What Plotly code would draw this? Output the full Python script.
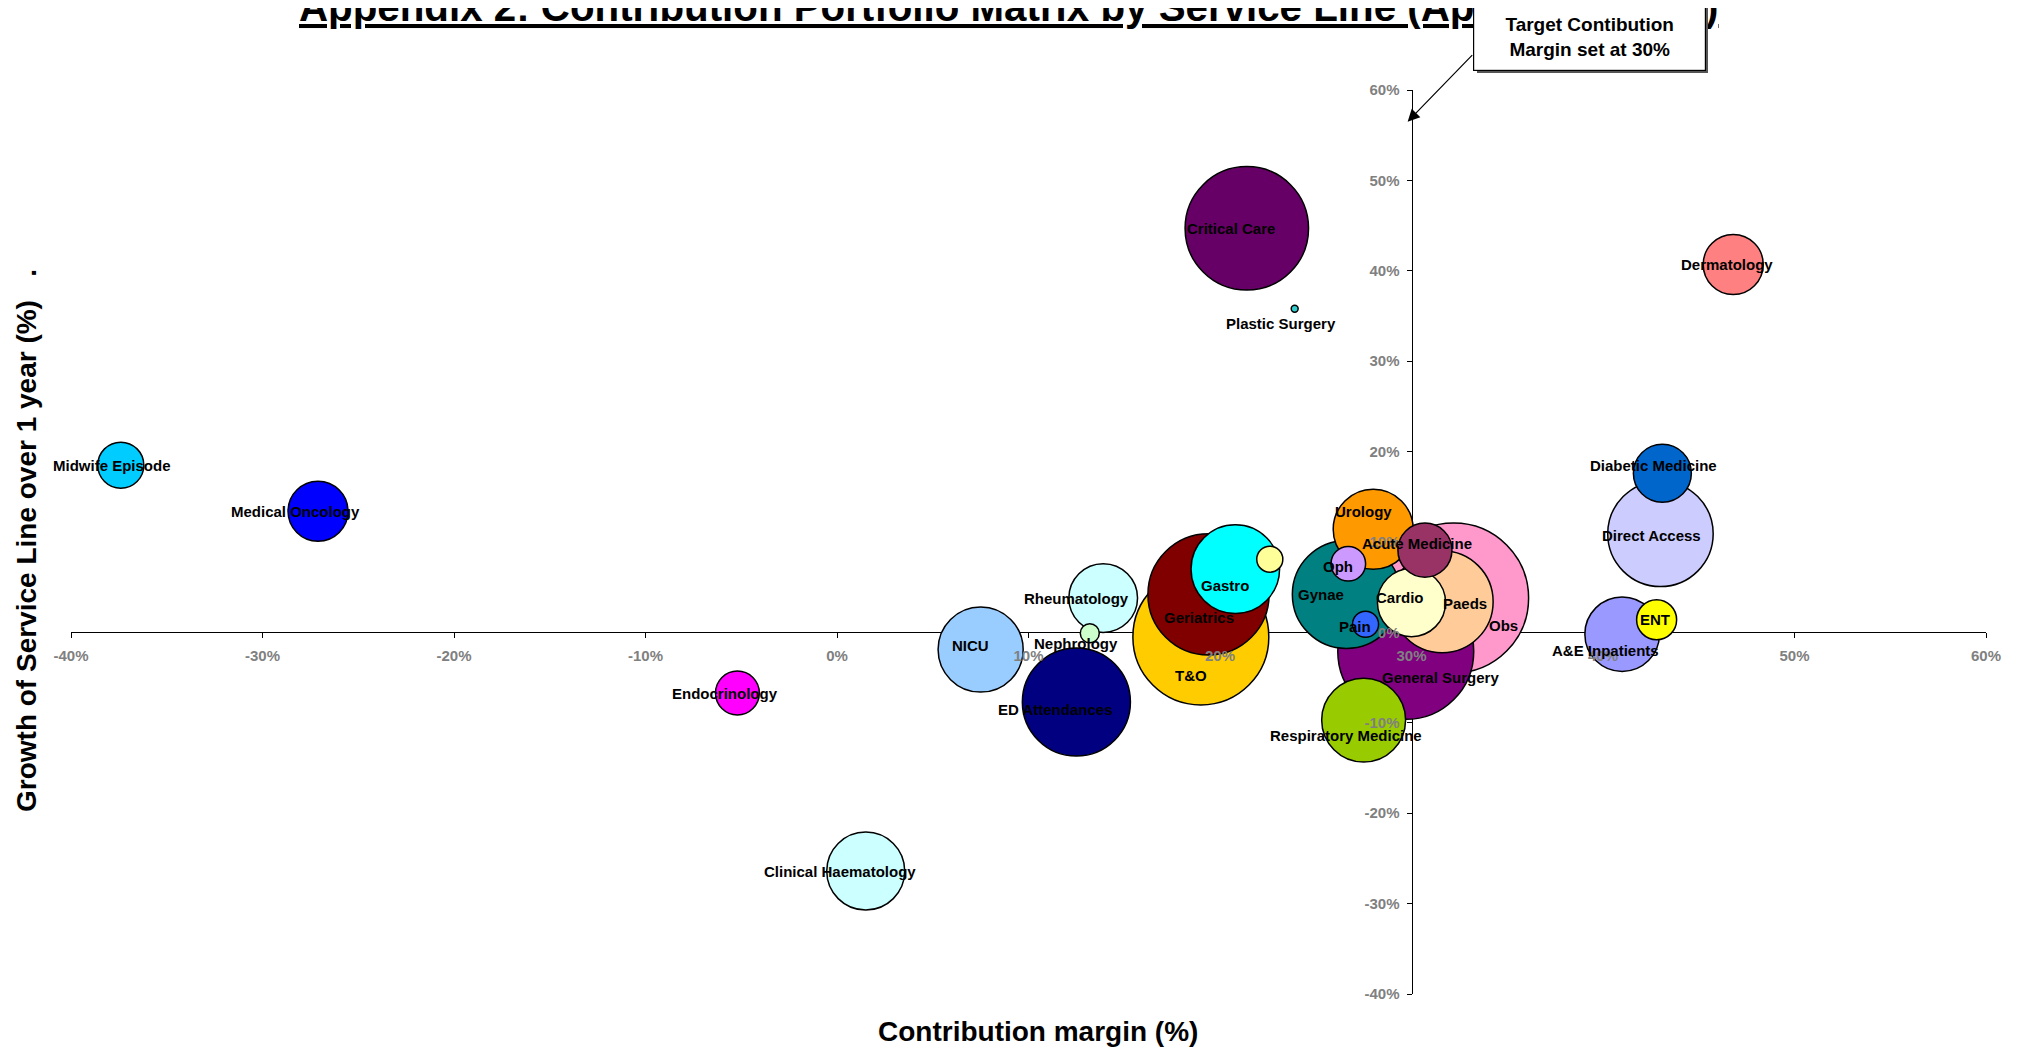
import numpy as np
import plotly.graph_objects as go

# ---------------- data ----------------
service_lines = ["Midwife Episode", "Medical Oncology", "Endocrinology", "Clinical Haematology",
                 "NICU", "ED Attendances", "Nephrology", "Rheumatology", "T&O", "Geriatrics",
                 "Gastro", "", "Critical Care", "Plastic Surgery", "Urology", "Oph", "Gynae",
                 "Pain", "Acute Medicine", "Cardio", "Paeds", "Obs", "General Surgery",
                 "Respiratory Medicine", "Diabetic Medicine", "Direct Access", "A&E Inpatients",
                 "ENT", "Dermatology"]
contribution_margin = [-37.4, -27.1, -5.2, 1.5, 7.5, 12.5, 13.2, 13.9, 19.0, 19.4,
                       20.8, 22.6, 21.4, 23.9, 28.0, 26.7, 26.6, 27.6, 30.7, 30.0,
                       31.6, 32.2, 29.7, 27.5, 43.1, 43.0, 41.0, 42.8, 46.8]
growth_1yr = [18.5, 13.4, -6.7, -26.4, -1.9, -7.7, -0.1, 3.8, -0.5, 4.2,
              7.0, 8.1, 44.7, 35.8, 11.4, 7.6, 4.2, 0.9, 9.1, 3.3,
              3.4, 3.8, -2.1, -9.7, 17.6, 10.9, -0.2, 1.4, 40.7]
bubble_value = [530, 900, 480, 1520, 1810, 2920, 90, 1180, 4620, 3670,
                1960, 170, 3810, 12, 1600, 300, 2920, 170, 730, 1160,
                2600, 5620, 4620, 1760, 840, 2780, 1390, 400, 900]
tick_values = [-40, -30, -20, -10, 0, 10, 20, 30, 40, 50, 60]
tick_labels = ["-40%", "-30%", "-20%", "-10%", "0%", "10%", "20%", "30%", "40%", "50%", "60%"]
target_margin = 30

# ---------------- styles ----------------
colors = {"Midwife Episode": "#00CCFF", "Medical Oncology": "#0000FF", "Endocrinology": "#FF00FF",
          "Clinical Haematology": "#CCFFFF", "NICU": "#99CCFF", "ED Attendances": "#000080",
          "Nephrology": "#CCFFCC", "Rheumatology": "#CCFFFF", "T&O": "#FFCC00",
          "Geriatrics": "#800000", "Gastro": "#00FFFF", "": "#FFFF99", "Critical Care": "#660066",
          "Plastic Surgery": "#33CCCC", "Urology": "#FF9900", "Oph": "#CC99FF", "Gynae": "#008080",
          "Pain": "#3366FF", "Acute Medicine": "#993366", "Cardio": "#FFFFCC", "Paeds": "#FFCC99",
          "Obs": "#FF99CC", "General Surgery": "#800080", "Respiratory Medicine": "#99CC00",
          "Diabetic Medicine": "#0066CC", "Direct Access": "#CCCCFF", "A&E Inpatients": "#9999FF",
          "ENT": "#FFFF00", "Dermatology": "#FF8080"}
# label offsets in pixels (right, down)
label_offset = {"Midwife Episode": (-9, 0), "Medical Oncology": (-23, 0), "Endocrinology": (-12, 1),
                "Clinical Haematology": (-26, 0), "NICU": (-10, -4), "ED Attendances": (-21, 7),
                "Nephrology": (-14, 10), "Rheumatology": (-27, 0), "T&O": (-10, 39),
                "Geriatrics": (-10, 23), "Gastro": (-10, 16), "Critical Care": (-16, 0),
                "Plastic Surgery": (-14, 15), "Urology": (-10, -18), "Oph": (-10, 3),
                "Gynae": (-25, 0), "Pain": (-11, 2), "Acute Medicine": (-8, -7), "Cardio": (-12, -5),
                "Paeds": (23, 2), "Obs": (50, 27), "General Surgery": (35, 26),
                "Respiratory Medicine": (-18, 15), "Diabetic Medicine": (-9, -8),
                "Direct Access": (-9, 2), "A&E Inpatients": (-17, 16), "ENT": (-2, 0),
                "Dermatology": (-6, 0)}

FONT = "Liberation Sans, Arial, sans-serif"

# plot area (page pixels): x 71..1986, y 90..994 ; page body has an 8px margin
PL, PR, PT, PB = 71, 1986, 90, 994
PW, PH = PR - PL, PB - PT


def px_paper_x(p):
    return (p - PL) / PW


def px_paper_y(p):
    return (PB - p) / PH


order = np.argsort(-np.array(bubble_value), kind="stable")
xs = [contribution_margin[i] for i in order]
ys = [growth_1yr[i] for i in order]
vs = [bubble_value[i] for i in order]
cs = [colors[service_lines[i]] for i in order]

fig = go.Figure()
fig.add_trace(go.Scatter(
    x=xs, y=ys, mode="markers",
    marker=dict(size=vs, sizemode="area", sizeref=0.5, color=cs, opacity=1,
                line=dict(color="black", width=1.5)),
    hoverinfo="skip", showlegend=False, cliponaxis=False))
# dummy trace for overlay axes carrying the tick labels (drawn above the bubbles)
fig.add_trace(go.Scatter(x=[None], y=[None], xaxis="x2", yaxis="y2", showlegend=False,
                         hoverinfo="skip"))

rng = [-40, 60]
xpos = (0 - rng[0]) / (rng[1] - rng[0])
ypos = (target_margin - rng[0]) / (rng[1] - rng[0])
common = dict(range=rng, autorange=False, tickvals=tick_values, ticktext=tick_labels,
              showgrid=False, zeroline=False, anchor="free", fixedrange=True)
tickfont = dict(family=FONT, size=15, color="#808080", weight="bold")
fig.update_layout(
    xaxis=dict(**common, position=xpos, showline=True, linecolor="black", linewidth=1,
               ticks="outside", ticklen=5, tickcolor="black", showticklabels=False,
               layer="below traces"),
    yaxis=dict(**common, position=ypos, showline=True, linecolor="black", linewidth=1,
               ticks="outside", ticklen=5, tickcolor="black", showticklabels=False,
               layer="below traces"),
    xaxis2=dict(**common, overlaying="x", position=xpos, showline=False, ticks="outside",
                ticklen=5, tickcolor="rgba(0,0,0,0)", showticklabels=True, tickfont=tickfont,
                ticklabelstandoff=5, layer="above traces"),
    yaxis2=dict(**common, overlaying="y", position=ypos, showline=False, ticks="outside",
                ticklen=5, tickcolor="rgba(0,0,0,0)", showticklabels=True, tickfont=tickfont,
                ticklabelstandoff=4, layer="above traces"),
    width=2018, height=1042, autosize=False,
    margin=dict(l=PL - 8, r=2026 - PR, t=PT - 8, b=1050 - PB),
    paper_bgcolor="white", plot_bgcolor="white",
    font=dict(family=FONT),
)

ann = []
for name, xv, yv in zip(service_lines, contribution_margin, growth_1yr):
    if not name:
        continue
    dx, dy = label_offset.get(name, (0, 0))
    ann.append(dict(x=xv, y=yv, xref="x", yref="y", text=name, showarrow=False,
                    xshift=dx, yshift=-dy, xanchor="center", yanchor="middle",
                    font=dict(family=FONT, size=15, color="black", weight="bold")))

# title (partly above the top edge, as in the original)
ann.append(dict(x=px_paper_x(297), y=px_paper_y(32), xref="paper", yref="paper",
                text="Appendix 2: Contribution Portfolio Matrix by Service Line (April-May 2008)",
                showarrow=False, xanchor="left", yanchor="bottom",
                font=dict(family=FONT, size=40.3, color="black", weight="bold",
                          lineposition="under")))
# axis titles
ann.append(dict(x=px_paper_x(1038), y=px_paper_y(1031), xref="paper", yref="paper",
                text="Contribution margin (%)", showarrow=False, xanchor="center",
                yanchor="middle", font=dict(family=FONT, size=28, color="black", weight="bold")))
ann.append(dict(x=px_paper_x(26), y=px_paper_y(541), xref="paper", yref="paper",
                text="Growth of Service Line over 1 year (%)   .", textangle=-90,
                showarrow=False, xanchor="center", yanchor="middle",
                font=dict(family=FONT, size=28, color="black", weight="bold")))
# callout box: shadow + box
bx, by = px_paper_x(1589), px_paper_y(37)
ann.append(dict(x=bx, y=by, xref="paper", yref="paper", text=" ", showarrow=False,
                xanchor="center", yanchor="middle",
                width=229, height=64, bgcolor="#555555", borderwidth=0, borderpad=1,
                xshift=3, yshift=-3))
ann.append(dict(x=bx, y=by, xref="paper", yref="paper",
                text="Target Contibution<br>Margin set at 30%", showarrow=False,
                xanchor="center", yanchor="middle",
                width=229, height=64, bgcolor="white", bordercolor="black", borderwidth=1.2,
                borderpad=1, align="center",
                font=dict(family=FONT, size=19, color="black", weight="bold")))
# arrow from the box to the 30% axis
ann.append(dict(x=target_margin - 0.2, y=56.5, xref="x", yref="y", text="",
                showarrow=True, ax=66, ay=-68, axref="pixel", ayref="pixel",
                arrowhead=2, arrowsize=2.0, arrowwidth=1.2, arrowcolor="black", standoff=0))
fig.update_layout(annotations=ann)

fig.write_html("out.html")
